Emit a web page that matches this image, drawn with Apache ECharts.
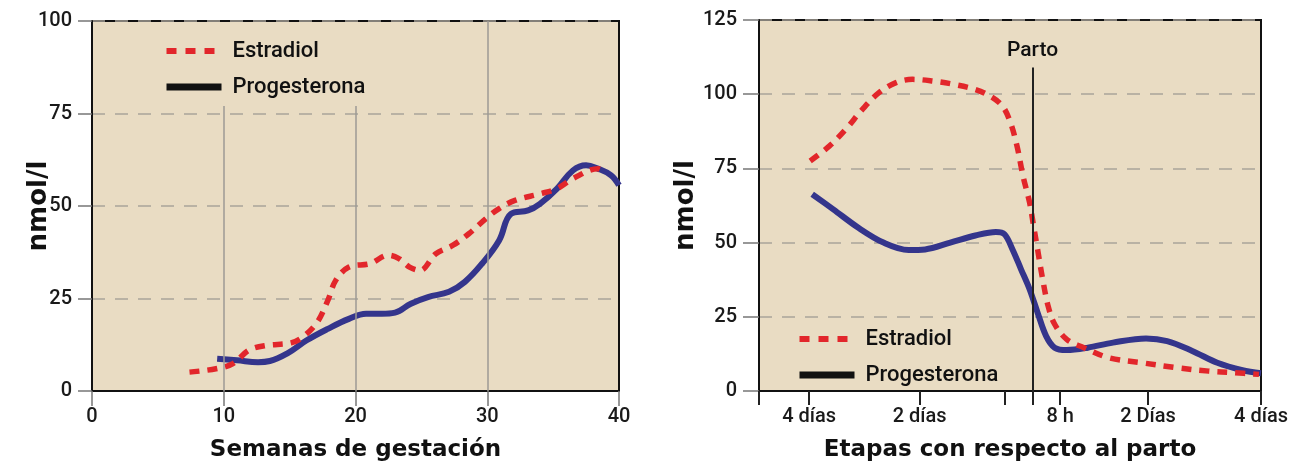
<!DOCTYPE html>
<html>
<head>
<meta charset="utf-8">
<script src="https://cdn.jsdelivr.net/npm/echarts@6/dist/echarts.min.js"></script>
<style>
  html, body { margin: 0; padding: 0; background: #ffffff; }
  #chart { width: 1303px; height: 469px; }
</style>
</head>
<body>
<div id="chart"></div>
<script>
// ---- Left panel: hormone levels across gestation (weeks) ----
const gestEstradiolWeeks = [7.4, 9.4, 10.7, 11.9, 13.2, 15.1, 16.0, 17.1, 17.9, 18.5, 19.5, 21.1, 22.5, 23.3, 24.1, 24.9, 26.1, 27.4, 28.6, 29.9, 30.9, 32.1, 34.0, 35.3, 36.5, 38.4, 38.8];
const gestEstradiol      = [5.1, 6.0, 7.4, 11.0, 12.3, 13.0, 14.6, 18.6, 24.5, 29.9, 33.5, 34.4, 36.7, 35.8, 33.5, 32.6, 37.1, 39.4, 42.5, 46.6, 49.3, 51.5, 53.3, 54.7, 57.4, 60.1, 59.5];
const gestProgWeeks      = [9.5, 11.0, 12.6, 13.5, 14.8, 16.3, 17.9, 19.5, 20.8, 22.0, 23.0, 24.2, 25.5, 27.1, 28.3, 29.6, 30.9, 31.8, 33.1, 34.0, 35.3, 36.5, 37.5, 38.4, 39.4, 40.0];
const gestProgesterone   = [8.7, 8.3, 7.8, 8.1, 10.1, 13.7, 16.8, 19.5, 20.9, 20.9, 21.2, 23.6, 25.4, 26.8, 29.5, 34.4, 40.7, 47.9, 48.8, 50.6, 54.7, 59.6, 61.0, 60.1, 58.3, 55.6];
const gestGuideWeeks     = [10, 20, 30];
const gestGuideTops      = [77, 77, 100];

// ---- Right panel: hormone levels around delivery (stage position 0-100) ----
const stageTickPos    = [0, 10, 32, 49, 54.5, 60, 77.5, 100];
const stageTickLabels = ['', '4 días', '2 días', '', '', '8 h', '2 Días', '4 días'];
const partoPos = 54.5;
const partoTop = 109;
const birthEstradiolPos = [10.2, 14.0, 17.3, 20.6, 23.9, 27.3, 30.6, 34.7, 38.9, 43.1, 46.0, 48.5, 50.1, 51.4, 52.6, 53.9, 54.7, 55.5, 56.4, 57.6, 58.9, 61.3, 64.7, 69.7, 76.3, 83.0, 89.6, 94.6, 99.6];
const birthEstradiol    = [77.5, 82.5, 88.2, 94.9, 100.5, 103.9, 105.0, 104.4, 103.3, 101.6, 99.4, 96.0, 90.4, 82.5, 72.4, 63.5, 55.6, 47.7, 38.7, 28.6, 22.5, 17.4, 14.6, 11.2, 9.5, 7.9, 6.7, 6.2, 5.6];
const birthProgPos      = [10.6, 14.8, 19.8, 24.8, 29.8, 33.1, 38.1, 43.1, 47.2, 48.9, 50.5, 52.2, 53.9, 55.5, 57.2, 58.9, 61.3, 65.5, 70.5, 77.1, 81.3, 86.3, 91.3, 96.3, 100];
const birthProgesterone = [66.3, 61.2, 55.0, 50.0, 47.5, 47.7, 50.0, 52.4, 53.6, 52.8, 47.7, 41.0, 34.3, 26.4, 18.5, 14.6, 13.8, 14.6, 16.3, 17.7, 16.8, 13.5, 9.5, 7.0, 6.0];

const zip = (xs, ys) => xs.map((x, i) => [x, ys[i]]);

const RED = '#e2262b';
const BLUE = '#34358c';
const BG = '#e9dcc3';
const labelFont = "Roboto, 'DejaVu Sans Condensed', sans-serif";
const titleFont = "'DejaVu Sans', sans-serif";

const tickLabelStyle = { color: '#1a1a1a', fontSize: 20, fontFamily: labelFont, fontWeight: 500 };
const xNameStyle = { color: '#111', fontSize: 23, fontFamily: titleFont, fontWeight: 'bold' };
const yNameStyle = { color: '#111', fontSize: 26, fontFamily: titleFont, fontWeight: 'bold' };
const dashedGrid = { show: true, lineStyle: { color: '#a9a49b', width: 1.5, type: [13, 10] } };
// legend marker dot is hidden so only the line sample remains
const noDot = { color: 'rgba(0,0,0,0)', borderColor: 'rgba(0,0,0,0)', borderWidth: 0 };

function legendFor(left, top) {
  return {
    orient: 'vertical', left: left, top: top,
    itemWidth: 55, itemHeight: 20, itemGap: 14,
    selectedMode: false,
    textStyle: { color: '#111', fontSize: 22, fontFamily: labelFont, fontWeight: 500, padding: [0, 0, 0, 6] },
    data: [
      { name: 'Estradiol', itemStyle: noDot, lineStyle: { color: RED, width: 6, type: [10, 9] } },
      { name: 'Progesterona', itemStyle: noDot, lineStyle: { color: '#111', width: 7, type: 'solid' } }
    ]
  };
}

const chart = echarts.init(document.getElementById('chart'), null, { renderer: 'canvas' });
chart.setOption({
  animation: false,
  backgroundColor: '#ffffff',
  grid: [
    { left: 92, top: 21, width: 527, height: 370, show: true, backgroundColor: BG, borderColor: '#111', borderWidth: 2 },
    { left: 759, top: 20, width: 502, height: 371, show: true, backgroundColor: BG, borderColor: '#111', borderWidth: 2 }
  ],
  legend: [legendFor(158, 35), legendFor(791, 323)],
  xAxis: [
    {
      gridIndex: 0, type: 'value', min: 0, max: 40, interval: 10,
      name: 'Semanas de gestación', nameLocation: 'middle', nameGap: 48, nameTextStyle: xNameStyle,
      axisLine: { lineStyle: { color: '#111', width: 2 } },
      axisTick: { show: true, length: 15, lineStyle: { color: '#777', width: 1.5 } },
      axisLabel: Object.assign({ margin: 16 }, tickLabelStyle),
      splitLine: { show: false }
    },
    {
      gridIndex: 1, type: 'value', min: 0, max: 100,
      name: 'Etapas con respecto al parto', nameLocation: 'middle', nameGap: 48, nameTextStyle: xNameStyle,
      axisLine: { lineStyle: { color: '#111', width: 2 } },
      axisTick: { show: true, length: 14, customValues: stageTickPos, lineStyle: { color: '#222', width: 2 } },
      axisLabel: Object.assign({
        margin: 16, showMinLabel: true, showMaxLabel: true,
        customValues: stageTickPos.filter((p, i) => stageTickLabels[i] !== ''),
        formatter: v => stageTickLabels[stageTickPos.indexOf(v)]
      }, tickLabelStyle),
      splitLine: { show: false }
    }
  ],
  yAxis: [
    {
      gridIndex: 0, type: 'value', min: 0, max: 100, interval: 25,
      name: 'nmol/l', nameLocation: 'middle', nameGap: 40, nameMoveOverlap: false, nameRotate: 90, nameTextStyle: yNameStyle,
      axisLine: { show: true, lineStyle: { color: '#111', width: 2 } },
      axisTick: { show: true, length: 14, lineStyle: { color: '#777', width: 1.5 } },
      axisLabel: Object.assign({ margin: 20 }, tickLabelStyle),
      splitLine: dashedGrid
    },
    {
      gridIndex: 1, type: 'value', min: 0, max: 125, interval: 25,
      name: 'nmol/l', nameLocation: 'middle', nameGap: 58, nameRotate: 90, nameTextStyle: yNameStyle,
      axisLine: { show: true, lineStyle: { color: '#111', width: 2 } },
      axisTick: { show: true, length: 16, lineStyle: { color: '#777', width: 1.5 } },
      axisLabel: Object.assign({ margin: 22 }, tickLabelStyle),
      splitLine: dashedGrid
    }
  ],
  series: [
    // thin vertical guides at 10, 20 and 30 weeks
    {
      type: 'line', xAxisIndex: 0, yAxisIndex: 0, data: [], z: 1, silent: true,
      markLine: {
        silent: true, symbol: 'none', animation: false,
        label: { show: false },
        lineStyle: { color: '#9d9a94', width: 1.5, type: 'solid' },
        data: gestGuideWeeks.map((w, i) => [{ coord: [w, 0] }, { coord: [w, gestGuideTops[i]] }])
      }
    },
    {
      name: 'Estradiol', type: 'line', xAxisIndex: 0, yAxisIndex: 0, z: 3,
      smooth: 0.35, symbol: 'none',
      lineStyle: { color: RED, width: 5.5, type: [10, 8] }, itemStyle: { color: RED },
      data: zip(gestEstradiolWeeks, gestEstradiol)
    },
    {
      name: 'Progesterona', type: 'line', xAxisIndex: 0, yAxisIndex: 0, z: 2,
      smooth: 0.4, symbol: 'none',
      lineStyle: { color: BLUE, width: 6 }, itemStyle: { color: BLUE },
      data: zip(gestProgWeeks, gestProgesterone)
    },
    {
      name: 'Estradiol', type: 'line', xAxisIndex: 1, yAxisIndex: 1, z: 3,
      smooth: 0.35, symbol: 'none',
      lineStyle: { color: RED, width: 5.5, type: [10, 8] }, itemStyle: { color: RED },
      data: zip(birthEstradiolPos, birthEstradiol)
    },
    {
      name: 'Progesterona', type: 'line', xAxisIndex: 1, yAxisIndex: 1, z: 2,
      smooth: 0.35, symbol: 'none',
      lineStyle: { color: BLUE, width: 6 }, itemStyle: { color: BLUE },
      data: zip(birthProgPos, birthProgesterone),
      markLine: {
        silent: true, symbol: 'none', animation: false,
        lineStyle: { color: '#222', width: 2, type: 'solid' },
        label: { show: true, position: 'end', formatter: 'Parto', distance: 6, color: '#111', fontSize: 21, fontFamily: labelFont, fontWeight: 500 },
        data: [[{ coord: [partoPos, 0] }, { coord: [partoPos, partoTop] }]]
      }
    }
  ]
});
</script>
</body>
</html>
